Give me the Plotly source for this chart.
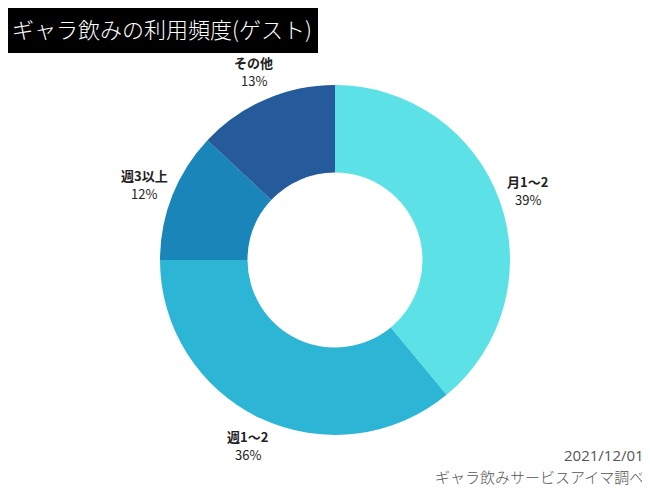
import math
import plotly.graph_objects as go

title_text = "ギャラ飲みの利用頻度(ゲスト)"
categories = ["月1〜2", "週1〜2", "週3以上", "その他"]
values = [39, 36, 12, 13]
colors = ["#5ce1e6", "#2cb5d5", "#1985b8", "#255b9b"]
source_date = "2021/12/01"
source_text = "ギャラ飲みサービスアイマ調べ"

# page has an 8px body margin; lay the figure out in page pixels minus that offset
OFF = 8
W, H = 650 - OFF, 488 - OFF
cx, cy, r = 335 - OFF, 260 - OFF, 175
label_r = 205
line_gap = 9


def px(x):
    return (x - OFF) / W


def py(y):
    return 1 - (y - OFF) / H


fig = go.Figure(go.Pie(
    labels=categories,
    values=values,
    marker=dict(colors=colors, line=dict(width=0)),
    hole=0.5,
    sort=False,
    direction="clockwise",
    rotation=0,
    textinfo="none",
    showlegend=False,
    hoverinfo="label+percent",
    domain=dict(x=[(cx - r) / W, (cx + r) / W], y=[1 - (cy + r) / H, 1 - (cy - r) / H]),
))

# slice labels placed radially at each slice's mid-angle (derived from the values)
total = sum(values)
cum = 0
lab_font = dict(family="Noto Sans CJK JP", size=13, color="#222222")
for lab, v in zip(categories, values):
    mid = 2 * math.pi * (cum + v / 2) / total
    cum += v
    lx = cx + label_r * math.sin(mid)
    ly = cy - label_r * math.cos(mid)
    pct = round(100 * v / total)
    fig.add_annotation(text=f"<b>{lab}</b>", xref="paper", yref="paper",
                       x=lx / W, y=1 - (ly - line_gap) / H, showarrow=False,
                       xanchor="center", yanchor="middle", font=lab_font)
    fig.add_annotation(text=f"{pct}%", xref="paper", yref="paper",
                       x=lx / W, y=1 - (ly + line_gap) / H, showarrow=False,
                       xanchor="center", yanchor="middle", font=lab_font)

fig.add_shape(type="rect", xref="paper", yref="paper",
              x0=px(5), x1=px(318), y0=py(53), y1=py(3),
              fillcolor="black", line=dict(width=0), layer="below")
fig.add_annotation(text=title_text, xref="paper", yref="paper",
                   x=px((5 + 318) / 2), y=py(28), showarrow=False,
                   xanchor="center", yanchor="middle",
                   font=dict(family="Noto Sans CJK JP", size=22, color="white", weight=300))
fig.add_annotation(text=source_date, xref="paper", yref="paper",
                   x=px(646), y=py(455), showarrow=False,
                   xanchor="right", yanchor="middle",
                   font=dict(family="Open Sans", size=15, color="#555555"))
fig.add_annotation(text=source_text, xref="paper", yref="paper",
                   x=px(646), y=py(476), showarrow=False,
                   xanchor="right", yanchor="middle",
                   font=dict(family="Noto Sans CJK JP", size=15, color="#555555", weight=300))

fig.update_layout(
    width=W, height=H,
    margin=dict(l=0, r=0, t=0, b=0),
    paper_bgcolor="white",
    plot_bgcolor="white",
)

fig.write_html("out.html")
